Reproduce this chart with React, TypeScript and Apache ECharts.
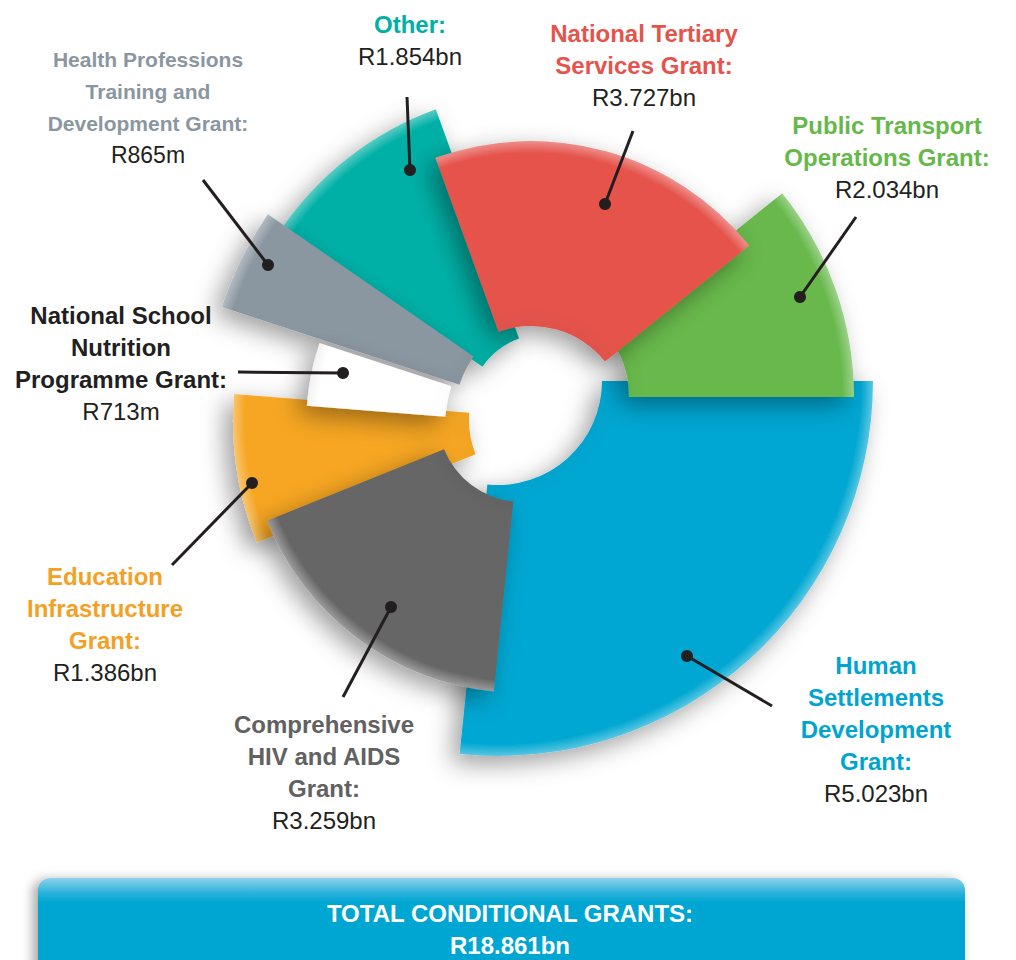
import React, { useEffect, useRef } from "react";
import * as echarts from "echarts";

// ---------- DATA ----------
const categories = [
  "Human Settlements Development Grant",
  "Comprehensive HIV and AIDS Grant",
  "Education Infrastructure Grant",
  "National School Nutrition Programme Grant",
  "Health Professions Training and Development Grant",
  "Other",
  "National Tertiary Services Grant",
  "Public Transport Operations Grant",
];
// R billion
const values = [5.023, 3.259, 1.386, 0.713, 0.865, 1.854, 3.727, 2.034];
const valueLabels = ["R5.023bn", "R3.259bn", "R1.386bn", "R713m", "R865m", "R1.854bn", "R3.727bn", "R2.034bn"];
const nameLines = [
  ["Human", "Settlements", "Development", "Grant:"],
  ["Comprehensive", "HIV and AIDS", "Grant:"],
  ["Education", "Infrastructure", "Grant:"],
  ["National School", "Nutrition", "Programme Grant:"],
  ["Health Professions", "Training and", "Development Grant:"],
  ["Other:"],
  ["National Tertiary", "Services Grant:"],
  ["Public Transport", "Operations Grant:"],
];
const totalTitle = "TOTAL CONDITIONAL GRANTS:";
const totalValue = "R18.861bn";

// ---------- STYLE / LAYOUT ----------
const colors = ["#00A7D2", "#666666", "#F6A623", "#FFFFFF", "#8A96A0", "#00B0A6", "#E5534C", "#67B84B"];
const textColors = ["#00A5CF", "#616161", "#F4A024", "#231F20", "#8A96A0", "#00AFA5", "#E5534B", "#66B84A"];
// exploded centre of each slice (pixels)
const sliceCenters = [
  [498, 381], [522, 418], [561, 420], [576, 427], [564, 419], [545, 410], [531, 421], [529, 397],
];
const sliceRadii = [
  [104, 375], [84, 275], [92, 328], [131, 270], [110, 360], [76, 320], [95, 280], [100, 325],
];
const sliceZ = [2, 4, 2, 5, 4, 2, 4, 3];
const labelPos = [
  [876, 665], [324, 724], [105, 576], [121, 315], [148, 59], [410, 24], [644, 33], [887, 125],
];
const labelFont = [24, 24, 24, 24, 21, 24, 24, 24];
const dotPos = [
  [687, 656], [391, 607], [252, 483], [343, 373], [268, 265], [410, 170], [605, 204], [800, 297],
];
const lineEnd = [
  [772, 706], [343, 697], [172, 565], [238, 372], [203, 180], [407, 97], [633, 131], [856, 217],
];
const LINE_H = 32;
const FONT = '"Liberation Sans", Arial, Helvetica, sans-serif';

function lighten(hex: string, amt: number) {
  const n = parseInt(hex.slice(1), 16);
  const r = (n >> 16) & 255, g = (n >> 8) & 255, b = n & 255;
  const f = (c: number) => Math.round(c + (255 - c) * amt);
  return `rgb(${f(r)},${f(g)},${f(b)})`;
}
function darken(hex: string, amt: number) {
  const n = parseInt(hex.slice(1), 16);
  const r = (n >> 16) & 255, g = (n >> 8) & 255, b = n & 255;
  const f = (c: number) => Math.round(c * (1 - amt));
  return `rgb(${f(r)},${f(g)},${f(b)})`;
}

export default function App() {
  const ref = useRef<HTMLDivElement>(null);
  useEffect(() => {
    const chart = echarts.init(ref.current!, null, { renderer: "svg" });

    const series = categories.map((_, i) => {
      const [cx, cy] = sliceCenters[i];
      const [r0, r] = sliceRadii[i];
      const base = colors[i];
      const fill = {
        type: "radial",
        x: cx,
        y: cy,
        r: r,
        global: true,
        colorStops: [
          { offset: 0, color: i === 3 ? "#e6e6e6" : darken(base, 0.14) },
          { offset: (r0 + 18) / r, color: base },
          { offset: (r - 12) / r, color: base },
          { offset: 1, color: i === 3 ? "#f2f2f2" : lighten(base, 0.35) },
        ],
      };
      return {
        type: "pie",
        name: categories[i],
        center: [cx, cy],
        radius: [r0, r],
        startAngle: 0,
        clockwise: true,
        z: sliceZ[i],
        silent: true,
        animation: false,
        label: { show: false },
        labelLine: { show: false },
        emphasis: { disabled: true },
        data: values.map((v, j) => ({
          name: categories[j],
          value: v,
          itemStyle:
            j === i
              ? {
                  color: fill,
                  shadowBlur: 24,
                  shadowColor: "rgba(0,0,0,0.38)",
                  shadowOffsetX: -8,
                  shadowOffsetY: 8,
                }
              : { color: "rgba(0,0,0,0)", shadowBlur: 0 },
        })),
      };
    });

    const graphics: any[] = [];
    // banner
    graphics.push({
      type: "rect",
      shape: { x: 38, y: 878, width: 927, height: 120, r: 12 },
      style: {
        fill: {
          type: "linear", x: 0, y: 0, x2: 0, y2: 1,
          colorStops: [
            { offset: 0, color: "#8FD2EA" },
            { offset: 0.12, color: "#2DB3DB" },
            { offset: 0.2, color: "#00A6D2" },
            { offset: 1, color: "#00A6D2" },
          ],
        },
        shadowBlur: 12,
        shadowColor: "rgba(0,0,0,0.35)",
        shadowOffsetX: -5,
        shadowOffsetY: 2,
      },
      z: 1,
    });
    graphics.push({
      type: "text",
      x: 510, y: 913, z: 10,
      style: { text: totalTitle, fill: "#FFFFFF", font: `bold 24px ${FONT}`, align: "center", verticalAlign: "middle" },
    });
    graphics.push({
      type: "text",
      x: 510, y: 945, z: 10,
      style: { text: totalValue, fill: "#FFFFFF", font: `bold 24px ${FONT}`, align: "center", verticalAlign: "middle" },
    });

    categories.forEach((_, i) => {
      const [lx, ly] = labelPos[i];
      nameLines[i].forEach((t, k) => {
        graphics.push({
          type: "text",
          x: lx, y: ly + k * LINE_H, z: 20,
          style: { text: t, fill: textColors[i], font: `bold ${labelFont[i]}px ${FONT}`, align: "center", verticalAlign: "middle" },
        });
      });
      graphics.push({
        type: "text",
        x: lx, y: ly + nameLines[i].length * LINE_H, z: 20,
        style: { text: valueLabels[i], fill: "#231F20", font: `${labelFont[i] === 24 ? 24 : 23}px ${FONT}`, align: "center", verticalAlign: "middle" },
      });
      graphics.push({
        type: "line",
        z: 30,
        shape: { x1: dotPos[i][0], y1: dotPos[i][1], x2: lineEnd[i][0], y2: lineEnd[i][1] },
        style: { stroke: "#231F20", lineWidth: 3 },
      });
      graphics.push({
        type: "circle",
        z: 31,
        shape: { cx: dotPos[i][0], cy: dotPos[i][1], r: 6 },
        style: { fill: "#231F20" },
      });
    });

    chart.setOption({
      animation: false,
      backgroundColor: "#FFFFFF",
      series,
      graphic: { elements: graphics },
    });
    return () => chart.dispose();
  }, []);
  return <div ref={ref} style={{ position: "fixed", left: 0, top: 0, width: 1016, height: 960 }} />;
}
